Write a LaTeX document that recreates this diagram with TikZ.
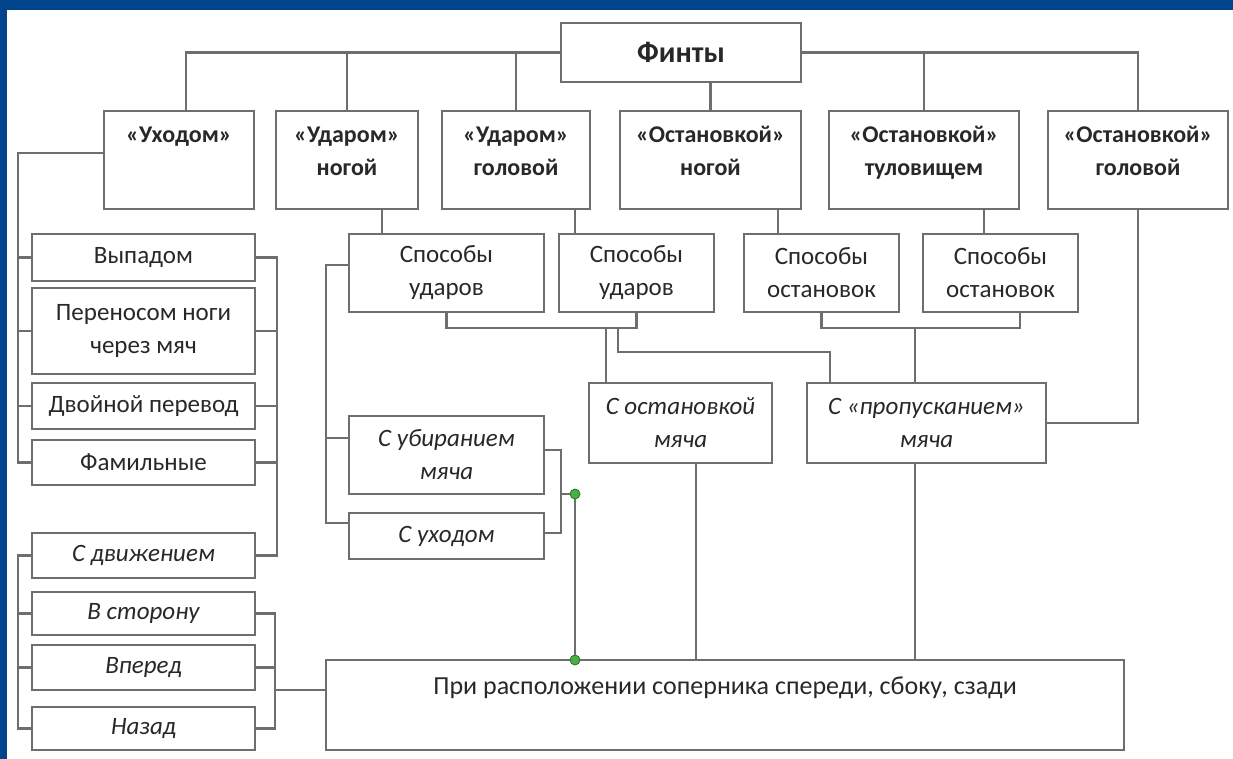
\documentclass[tikz,border=0pt]{standalone}
\usepackage{fontspec}
\setmainfont{Carlito}
\usetikzlibrary{calc}
\definecolor{frameblue}{RGB}{0,68,140}
\definecolor{linegray}{RGB}{110,110,110}
\definecolor{txtgray}{RGB}{40,40,40}
\definecolor{dotgreen}{RGB}{70,175,70}
\definecolor{dotedge}{RGB}{30,120,30}
\begin{document}
\begin{tikzpicture}[x=1pt,y=1pt,
  box/.style={draw=linegray, line width=2.2pt, fill=white, rectangle, inner sep=2pt, align=center, text=txtgray, font=\fontsize{25}{33}\selectfont},
  topbox/.style={box, font=\fontsize{24}{33}\selectfont\bfseries, text height=38pt, text depth=6pt, minimum height=98pt},
  topbox1/.style={box, font=\fontsize{24}{33}\selectfont\bfseries, text height=18pt, text depth=52pt, minimum height=98pt},
  itbox/.style={box, font=\fontsize{25}{33}\selectfont\itshape},
  conn/.style={draw=linegray, line width=2.2pt},
  gdot/.style={circle, fill=dotgreen, draw=dotedge, line width=0.8pt, minimum size=10pt, inner sep=0pt}
]
\fill[frameblue] (0,0) rectangle (1233,-759);
\fill[white] (7,-10) rectangle (1233,-759);
\useasboundingbox (0,0) rectangle (1233,-759);

% main
\node[box, font=\fontsize{30}{33}\selectfont\bfseries, minimum width=240pt, minimum height=59pt] (fin) at (681,-52.5) {Финты};

% top row
\node[topbox1, minimum width=150pt] (ukh)  at (179,-160)  {«Уходом»};
\node[topbox, minimum width=142pt] (udn)  at (347,-160)  {«Ударом»\\ногой};
\node[topbox, minimum width=148pt] (udg)  at (516,-160)  {«Ударом»\\головой};
\node[topbox, minimum width=181pt] (ostn) at (710.5,-160) {«Остановкой»\\ногой};
\node[topbox, minimum width=190pt] (ostt) at (924,-160)  {«Остановкой»\\туловищем};
\node[topbox, minimum width=180pt] (osg)  at (1138,-160) {«Остановкой»\\головой};

% left column
\node[box, minimum width=223pt, minimum height=47pt] (vyp) at (143.5,-257.5) {Выпадом};
\node[box, minimum width=223pt, minimum height=86pt] (per) at (143.5,-331) {Переносом ноги\\через мяч};
\node[box, minimum width=223pt, minimum height=46pt] (dvo) at (143.5,-406) {Двойной перевод};
\node[box, minimum width=223pt, minimum height=45pt] (fam) at (143.5,-462.5) {Фамильные};
\node[itbox, minimum width=223pt, minimum height=45pt] (sdv) at (143.5,-555.5) {С движением};
\node[itbox, minimum width=223pt, minimum height=43pt] (vst) at (143.5,-613.5) {В сторону};
\node[itbox, minimum width=223pt, minimum height=45pt] (vpe) at (143.5,-667.5) {Вперед};
\node[itbox, minimum width=223pt, minimum height=43pt] (naz) at (143.5,-728.5) {Назад};

% second row
\node[box, minimum width=195pt, minimum height=78pt] (spu1) at (446.5,-273) {Способы\\ударов};
\node[box, minimum width=155pt, minimum height=78pt] (spu2) at (636.5,-273) {Способы\\ударов};
\node[box, minimum width=155pt, minimum height=78pt] (spo1) at (821.5,-273) {Способы\\остановок};
\node[box, minimum width=155pt, minimum height=78pt] (spo2) at (1000.5,-273) {Способы\\остановок};

% middle
\node[itbox, minimum width=195pt, minimum height=78pt] (sub) at (446.5,-455) {С убиранием\\мяча};
\node[itbox, minimum width=195pt, minimum height=46pt] (sukh) at (446.5,-536) {С уходом};
\node[itbox, minimum width=183pt, minimum height=80pt] (sos) at (680.5,-423) {С остановкой\\мяча};
\node[itbox, minimum width=239pt, minimum height=80pt] (spr) at (926.5,-423) {С «пропусканием»\\мяча};

% bottom
\node[box, font=\fontsize{26}{33}\selectfont, minimum width=798pt, minimum height=90pt, text height=18pt, text depth=40pt] (pri) at (725,-705) {При расположении соперника спереди, сбоку, сзади};

% green points
\node[gdot] (g1) at (575,-494) {};
\node[gdot] (g2) at (575,-660) {};

% helper coordinates
\coordinate (lb1) at (18,-153);
\coordinate (rb1) at (277,-257.5);
\coordinate (lb2) at (18,-555.5);
\coordinate (rb3) at (275,-613.5);
\coordinate (pj)  at (275,-690);
\coordinate (lb3) at (326,-265);
\coordinate (rb4) at (561,-450);
\coordinate (d1) at (382,0);
\coordinate (d2) at (575,0);
\coordinate (d3) at (778,0);
\coordinate (d4) at (984,0);
\coordinate (ju) at (0,-328);
\coordinate (d5) at (606,-328);
\coordinate (d6) at (618,-328);
\coordinate (d7) at (830,-352);
\coordinate (d8) at (1020,0);
\coordinate (d9) at (915,-328);
\coordinate (d10) at (696,0);

% Финты to top row
\draw[conn] (fin.west) -| ([xshift=7pt]ukh.north);
\draw[conn] (fin.west) -| (udn.north);
\draw[conn] (fin.west) -| (udg.north);
\draw[conn] (fin.south -| ostn.north) -- (ostn.north);
\draw[conn] (fin.east) -| (ostt.north);
\draw[conn] (fin.east) -| (osg.north);

% left brackets
\draw[conn] ([yshift=7pt]ukh.west) -- (lb1) |- (fam.west);
\draw[conn] (vyp.west) -- (vyp.west -| lb1);
\draw[conn] (per.west) -- (per.west -| lb1);
\draw[conn] (dvo.west) -- (dvo.west -| lb1);
\draw[conn] (vyp.east) -- (rb1) |- (sdv.east);
\draw[conn] (per.east) -- (per.east -| rb1);
\draw[conn] (dvo.east) -- (dvo.east -| rb1);
\draw[conn] (fam.east) -- (fam.east -| rb1);
\draw[conn] (sdv.west) -- (lb2) |- (naz.west);
\draw[conn] (vst.west) -- (vst.west -| lb2);
\draw[conn] (vpe.west) -- (vpe.west -| lb2);
\draw[conn] (vst.east) -- (rb3) |- (naz.east);
\draw[conn] (vpe.east) -- (vpe.east -| rb3);
\draw[conn] (pj) -- (pj -| pri.west);

% top row to second row
\draw[conn] (udn.south -| d1) -- (spu1.north -| d1);
\draw[conn] (udg.south -| d2) -- (spu2.north -| d2);
\draw[conn] (ostn.south -| d3) -- (spo1.north -| d3);
\draw[conn] (ostt.south -| d4) -- (spo2.north -| d4);

% Способы ударов bracket
\draw[conn] ([yshift=8pt]spu1.west) -- (lb3) |- ([yshift=13pt]sukh.west);
\draw[conn] ([yshift=17pt]sub.west) -- ([yshift=17pt]sub.west -| lb3);
\draw[conn] ([yshift=5pt]sub.east) -- (rb4) |- ([yshift=3pt]sukh.east);
\draw[conn] (rb4 |- g1) -- (g1);
\draw[conn] (g1) -- (g2);

% joins below second row
\draw[conn] (spu1.south) -- (spu1.south |- ju) -- (spu2.south |- ju) -- (spu2.south);
\draw[conn] (d5) -- (d5 |- sos.north);
\draw[conn] (d6) |- (d7) -- (d7 |- spr.north);
\draw[conn] (spo1.south) -- (spo1.south |- ju) -- (d8 |- ju) -- (d8 |- spo2.south);
\draw[conn] (d9) -- (d9 |- spr.north);
\draw[conn] (osg.south) |- (spr.east);

% to bottom box
\draw[conn] (sos.south -| d10) -- (pri.north -| d10);
\draw[conn] (spr.south -| d9) -- (pri.north -| d9);
\end{tikzpicture}
\end{document}
